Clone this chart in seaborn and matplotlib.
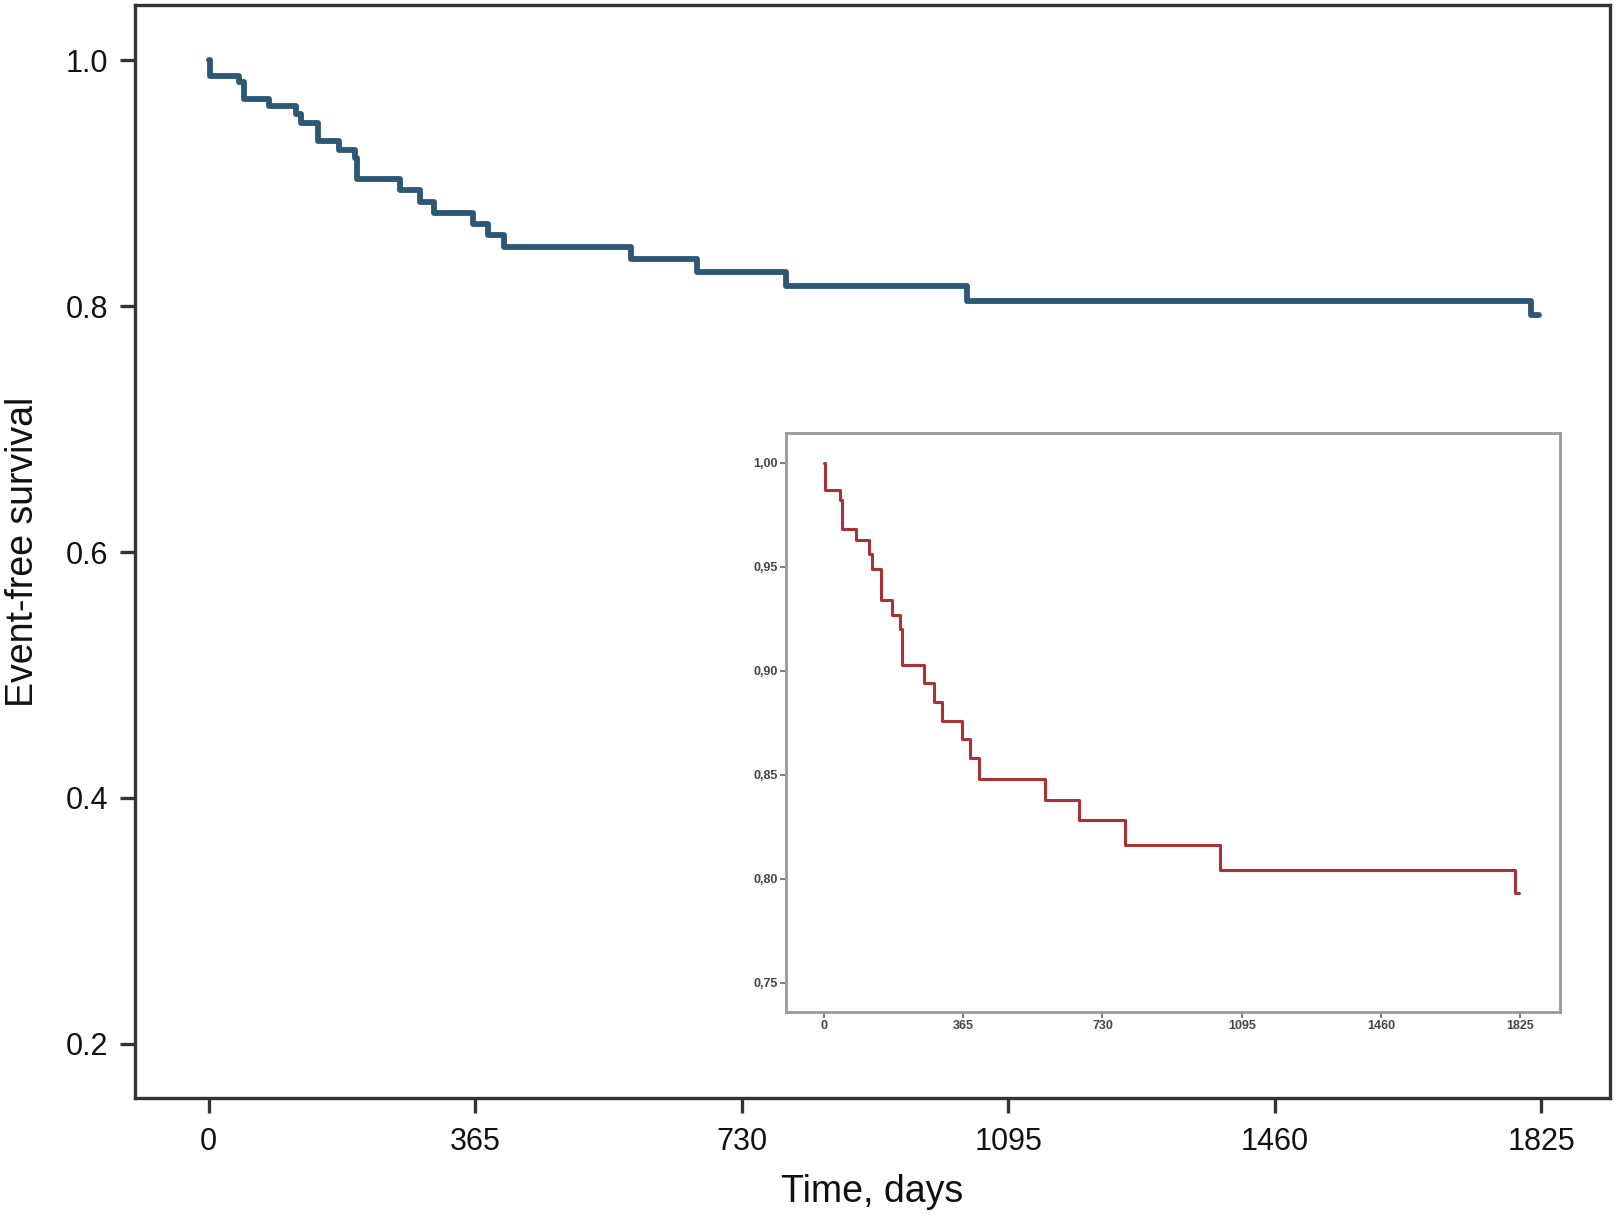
import matplotlib
matplotlib.use("Agg")
import matplotlib.pyplot as plt
import seaborn as sns
import pandas as pd

# Kaplan-Meier steps
days = [0, 2, 41, 48, 83, 119, 126, 150, 179, 200, 203, 262, 289, 309, 362,
        383, 405, 579, 669, 790, 1038, 1811, 1822]
survival = [1.0, 0.987, 0.982, 0.968, 0.963, 0.956, 0.949, 0.934, 0.927, 0.920,
            0.903, 0.894, 0.885, 0.876, 0.867, 0.858, 0.848, 0.838, 0.828,
            0.816, 0.804, 0.793, 0.793]

x_ticks = [0, 365, 730, 1095, 1460, 1825]
main_y_ticks = [0.2, 0.4, 0.6, 0.8, 1.0]
inset_y_ticks = [0.75, 0.80, 0.85, 0.90, 0.95, 1.00]
inset_y_labels = ["0,75", "0,80", "0,85", "0,90", "0,95", "1,00"]

df = pd.DataFrame({"days": days, "survival": survival})

sns.set_style("white")
plt.rcParams["font.family"] = ["Liberation Sans", "DejaVu Sans"]

fig = plt.figure(figsize=(16.18, 12.16), dpi=100)

# main panel
ax = fig.add_axes([0.0834, 0.097, 0.9116, 0.8989])
sns.lineplot(data=df, x="days", y="survival", ax=ax, drawstyle="steps-post",
             color="#2c5876", linewidth=4.2, estimator=None, sort=False)
ax.set_xlim(-101, 1919)
ax.set_ylim(0.156, 1.0448)
ax.set_xticks(x_ticks)
ax.set_xticklabels([str(t) for t in x_ticks])
ax.set_yticks(main_y_ticks)
ax.set_yticklabels([f"{t:.1f}" for t in main_y_ticks])
ax.tick_params(axis="both", direction="out", length=11, width=2.4,
               color="#333333", labelsize=22, pad=8, labelcolor="#111111",
               bottom=True, left=True)
ax.tick_params(axis="x", pad=10)
for sp in ax.spines.values():
    sp.set_color("#333333")
    sp.set_linewidth(2.4)
ax.set_xlabel("Time, days", fontsize=27, labelpad=12, color="#111111")
ax.set_ylabel("Event-free survival", fontsize=27, labelpad=18, color="#111111")

# inset panel (zoomed y axis)
ins = fig.add_axes([0.486, 0.168, 0.478, 0.476])
sns.lineplot(data=df, x="days", y="survival", ax=ins, drawstyle="steps-post",
             color="#a83236", linewidth=2.2, estimator=None, sort=False)
ins.set_xlim(-99, 1929)
ins.set_ylim(0.736, 1.0144)
ins.set_xticks(x_ticks)
ins.set_xticklabels([str(t) for t in x_ticks])
ins.set_yticks(inset_y_ticks)
ins.set_yticklabels(inset_y_labels)
ins.tick_params(axis="both", direction="out", length=4, width=1.2,
                color="#666666", labelsize=9, pad=2, labelcolor="#444444",
                bottom=True, left=True)
for lab in ins.get_xticklabels() + ins.get_yticklabels():
    lab.set_fontweight("bold")
ins.set_xlabel("")
ins.set_ylabel("")
for sp in ins.spines.values():
    sp.set_color("#999999")
    sp.set_linewidth(2.0)

fig.savefig("out.png", dpi=100)
